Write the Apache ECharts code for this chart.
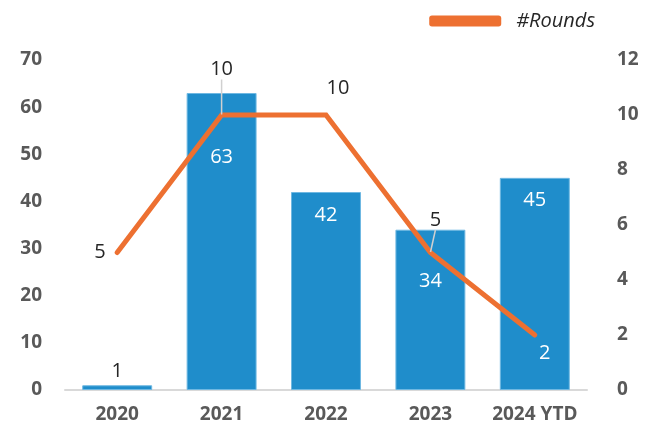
<!DOCTYPE html>
<html>
<head>
<meta charset="utf-8">
<script src="https://cdn.jsdelivr.net/npm/echarts@6/dist/echarts.min.js"></script>
<style>
  html, body { margin: 0; padding: 0; background: #fff; }
  #chart { width: 650px; height: 434px; }
</style>
</head>
<body>
<div id="chart"></div>
<script>
// Yearly deal amounts (bars, left axis) and number of rounds (line, right axis)
var years = ['2020', '2021', '2022', '2023', '2024 YTD'];
var amounts = [1, 63, 42, 34, 45];
var rounds = [5, 10, 10, 5, 2];
var leftTicks = { min: 0, max: 70, interval: 10 };
var rightTicks = { min: 0, max: 12, interval: 2 };

var FONT = '"Open Sans", "Noto Sans", sans-serif';
var GREY = '#595959';
var ORANGE = '#ed7031';

// Placement of the value labels on the bars
var barLabelPos = [
  { position: 'top', distance: 4, color: '#262626' },
  { position: 'insideTop', distance: 54, color: '#fff' },
  { position: 'insideTop', distance: 13, color: '#fff' },
  { position: 'insideTop', distance: 42, color: '#fff' },
  { position: 'insideTop', distance: 12, color: '#fff' }
];
// Placement of the value labels on the line
var lineLabelPos = [
  { position: 'left', distance: 11, color: '#262626', guide: false },
  { position: 'top', distance: 5, dy: -30, color: '#262626', guide: true },
  { position: 'top', distance: 8, dx: 12, dy: -8, color: '#262626', guide: false },
  { position: 'top', distance: 5, dy: -17, dx: 5, color: '#262626', guide: true },
  { position: 'bottom', distance: 4, dx: 10, dy: 4, color: '#fff', guide: false }
];

var barData = amounts.map(function (v, i) {
  var p = barLabelPos[i];
  return { value: v, label: { position: p.position, distance: p.distance, color: p.color } };
});
var lineData = rounds.map(function (v, i) {
  var p = lineLabelPos[i];
  return {
    value: v,
    label: { position: p.position, distance: p.distance, color: p.color },
    labelLine: { show: p.guide, lineStyle: { color: '#d0d0d0', width: 1.5 } }
  };
});

var chart = echarts.init(document.getElementById('chart'), null, { renderer: 'canvas' });
chart.setOption({
  animation: false,
  textStyle: { fontFamily: FONT },
  legend: {
    data: [{ name: '#Rounds', icon: 'roundRect', itemStyle: { color: ORANGE, opacity: 1 } }],
    right: 50,
    top: 6,
    itemWidth: 72,
    itemHeight: 11,
    itemGap: 10,
    textStyle: { fontFamily: FONT, fontSize: 20, fontStyle: 'italic', color: '#262626', padding: [0, 0, 0, 10] }
  },
  grid: { left: 65, right: 63, top: 60, bottom: 44 },
  xAxis: {
    type: 'category',
    data: years,
    axisLine: { lineStyle: { color: '#d9d9d9', width: 2 } },
    axisTick: { show: false },
    axisLabel: { interval: 0, color: GREY, fontSize: 19, fontWeight: 'bold', margin: 15, fontFamily: FONT }
  },
  yAxis: [
    {
      type: 'value',
      min: leftTicks.min, max: leftTicks.max, interval: leftTicks.interval,
      splitLine: { show: false },
      axisLine: { show: false },
      axisTick: { show: false },
      axisLabel: { color: GREY, fontSize: 19, fontWeight: 'bold', margin: 23, fontFamily: FONT }
    },
    {
      type: 'value',
      min: rightTicks.min, max: rightTicks.max, interval: rightTicks.interval,
      splitLine: { show: false },
      axisLine: { show: false },
      axisTick: { show: false },
      axisLabel: { color: GREY, fontSize: 19, fontWeight: 'bold', margin: 30, fontFamily: FONT }
    }
  ],
  series: [
    {
      name: 'Amount',
      type: 'bar',
      yAxisIndex: 0,
      barWidth: '67%',
      itemStyle: { color: '#1f8dcb', borderColor: '#6fb8e2', borderWidth: 1 },
      label: { show: true, fontSize: 20, fontFamily: FONT },
      data: barData
    },
    {
      name: '#Rounds',
      type: 'line',
      yAxisIndex: 1,
      symbol: 'circle',
      symbolSize: 1,
      showSymbol: true,
      lineStyle: { color: ORANGE, width: 5, cap: 'round', join: 'miter' },
      itemStyle: { color: 'rgba(0,0,0,0)', borderWidth: 0 },
      label: { show: true, fontSize: 20, fontFamily: FONT },
      labelLayout: function (params) {
        var p = lineLabelPos[params.dataIndex];
        return { dx: p.dx || 0, dy: p.dy || 0 };
      },
      data: lineData
    }
  ]
});
</script>
</body>
</html>
